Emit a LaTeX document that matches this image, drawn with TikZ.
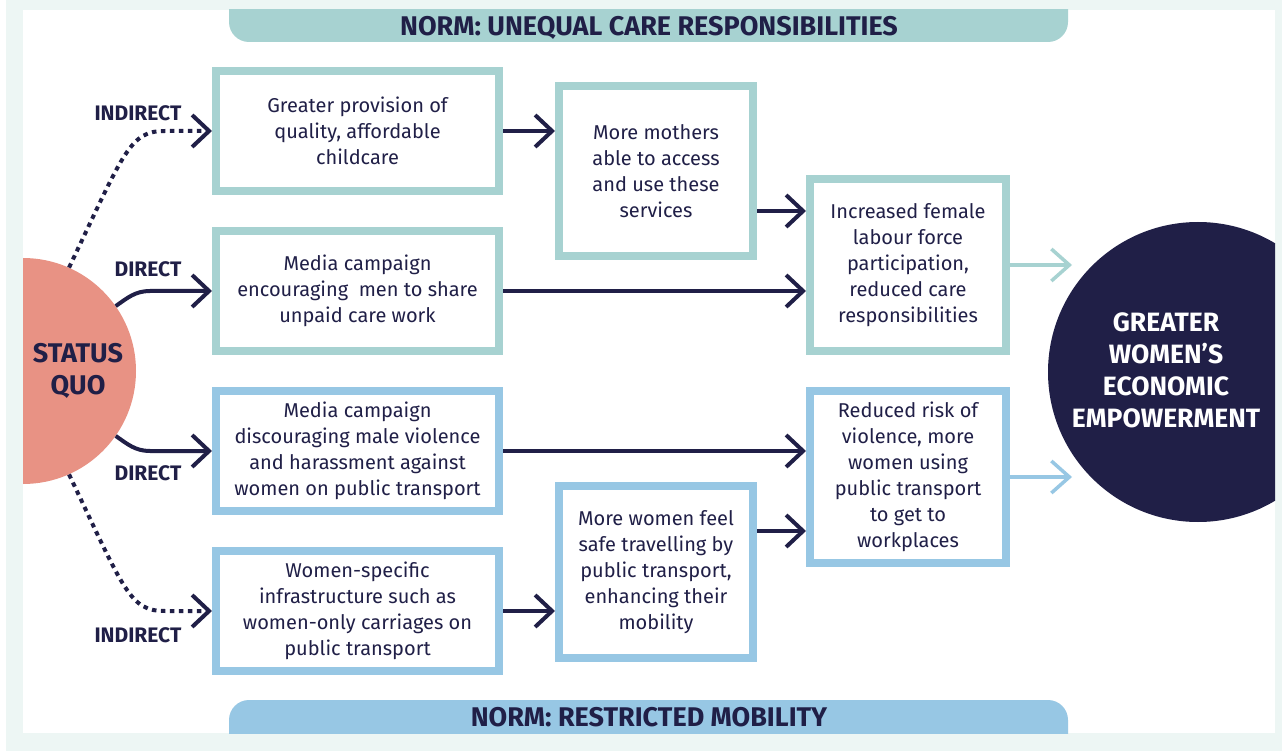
\documentclass[tikz,border=0pt]{standalone}
\usepackage{fontspec}
\setmainfont{Fira Sans}
\usetikzlibrary{arrows.meta}
\definecolor{cteal}{HTML}{A7D2D1}
\definecolor{cblue}{HTML}{97C7E4}
\definecolor{cnavy}{HTML}{201F47}
\definecolor{csalmon}{HTML}{E89284}
\definecolor{cbg}{HTML}{EDF6F4}
\tikzset{
  box/.style={draw, line width=8pt, fill=white, align=center, inner sep=0pt,
    text=cnavy, font=\fontsize{20}{26}\selectfont},
  tbox/.style={box, draw=cteal},
  bbox/.style={box, draw=cblue},
  arr/.style={draw=cnavy, line width=4pt, -{Straight Barb[length=17pt,width=32pt]}},
  larr/.style={line width=3.5pt, -{Straight Barb[length=18pt,width=32pt]}},
  dotline/.style={dash pattern=on 4.5pt off 4.5pt},
  lab/.style={text=cnavy, inner sep=0pt, font=\bfseries\fontsize{21}{24}\selectfont},
  headlab/.style={text=cnavy, inner sep=0pt, font=\bfseries\fontsize{27}{30}\selectfont},
}
\begin{document}
\begin{tikzpicture}[x=1pt,y=-1pt]
\useasboundingbox (0,0) rectangle (1282,751);
\fill[white] (0,0) rectangle (1282,751);
\fill[cbg] (6,0) rectangle (1282,751);
\fill[white] (23,10) rectangle (1275,733);
\begin{scope}
\clip (23,10) rectangle (1275,733);
\fill[cteal, rounded corners=20pt] (229,-30) rectangle (1068,42);
\fill[cblue, rounded corners=20pt] (229,700) rectangle (1068,770);
\node[circle, fill=csalmon, minimum size=226pt, inner sep=0pt] (sq) at (23,371) {};
\node[circle, fill=cnavy, minimum size=300pt, inner sep=0pt] (ge) at (1198,372) {};
\end{scope}
\node[headlab] (h1) at (649,28) {NORM: UNEQUAL CARE RESPONSIBILITIES};
\node[headlab] (h2) at (649,717) {NORM: RESTRICTED MOBILITY};
\node[text=cnavy, align=center, inner sep=0pt, font=\bfseries\fontsize{27}{32}\selectfont] (sqt) at (78,371) {STATUS\\QUO};
\node[text=white, align=center, inner sep=0pt, font=\bfseries\fontsize{26.5}{32}\selectfont] (get) at (1166,370) {GREATER\\WOMEN’S\\ECONOMIC\\EMPOWERMENT};

\node[tbox, minimum width=283pt, minimum height=120pt] (b1) at (357.5,131) {Greater provision of\\quality, affordable\\childcare};
\node[tbox, minimum width=283pt, minimum height=120pt] (b2) at (357.5,291) {Media campaign\\encouraging\ \ men to share\\unpaid care work};
\node[bbox, minimum width=283pt, minimum height=120pt] (b5) at (357.5,451) {Media campaign\\discouraging male violence\\and harassment against\\women on public transport};
\node[bbox, minimum width=283pt, minimum height=120pt] (b6) at (357.5,611) {Women-specific\\infrastructure such as\\women-only carriages on\\public transport};
\node[tbox, minimum width=194pt, minimum height=170pt] (b3) at (656,171) {More mothers\\able to access\\and use these\\services};
\node[tbox, minimum width=196pt, minimum height=172pt] (b4) at (908,265) {Increased female\\labour force\\participation,\\reduced care\\responsibilities};
\node[bbox, minimum width=194pt, minimum height=172pt] (b7) at (656,572) {More women feel\\safe travelling by\\public transport,\\enhancing their\\mobility};
\node[bbox, minimum width=196pt, minimum height=172pt] (b8) at (908,477) {Reduced risk of\\violence, more\\women using\\public transport\\to get to\\workplaces};

\draw[arr] (b1.east) -- (b1.east -| b3.west);
\draw[arr] ([yshift=-40pt]b3.east) -- ([yshift=-40pt]b3.east -| b4.west);
\draw[arr] (b2.east) -- (b2.east -| b4.west);
\draw[arr] (b5.east) -- (b5.east -| b8.west);
\draw[arr] (b6.east) -- (b6.east -| b7.west);
\draw[arr] ([yshift=41pt]b7.east) -- ([yshift=41pt]b7.east -| b8.west);

\coordinate (e1) at (1072,265);
\coordinate (e2) at (1072,477);
\draw[larr, draw=cteal] (b4.east) -- (e1);
\draw[larr, draw=cblue] (b8.east) -- (e2);

\draw[arr, dotline] (sq.66) .. controls (125,150) and (130,131) .. (165,131) -- (b1.west);
\draw[arr] (sq.35) to[out=35,in=180] (150,291) -- (b2.west);
\draw[arr] (sq.-35) to[out=-35,in=180] (150,451) -- (b5.west);
\draw[arr, dotline] (sq.-66) .. controls (125,592) and (130,611) .. (165,611) -- (b6.west);

\node[lab] (l1) at (138,113) {INDIRECT};
\node[lab] (l2) at (148,269) {DIRECT};
\node[lab] (l3) at (148,473) {DIRECT};
\node[lab] (l4) at (138,635) {INDIRECT};
\end{tikzpicture}
\end{document}
